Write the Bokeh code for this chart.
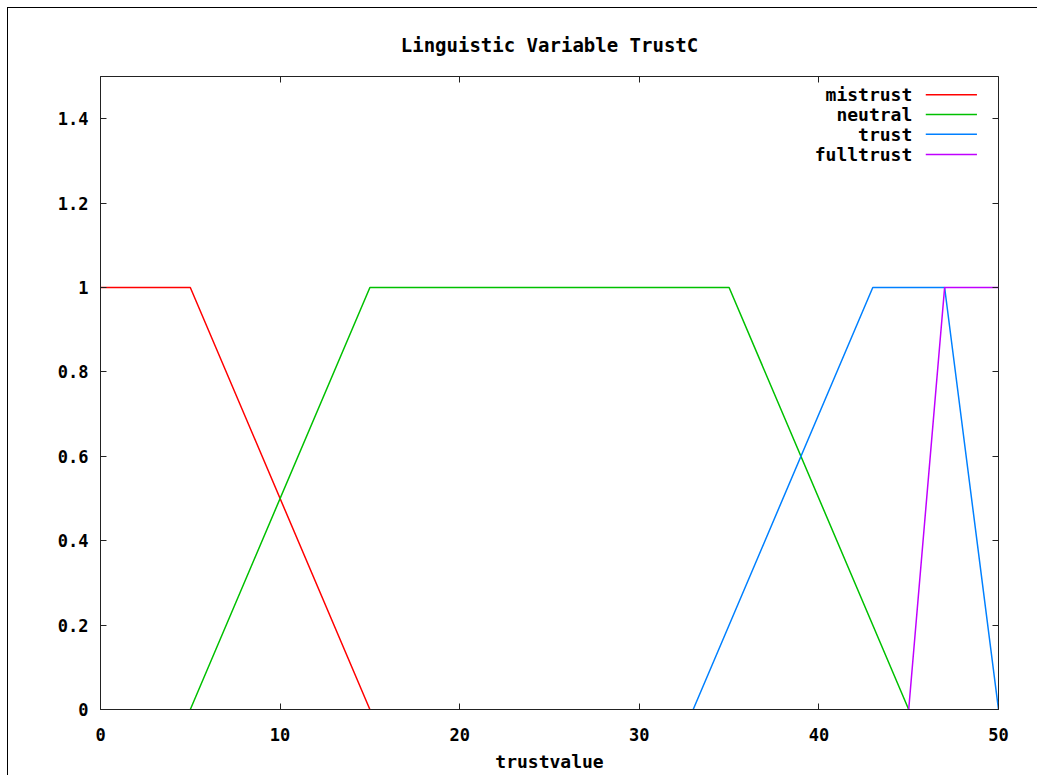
from bokeh.plotting import figure
from bokeh.models import Range1d, FixedTicker, LinearAxis
from bokeh.core.properties import value
from bokeh.embed import file_html
from bokeh.resources import INLINE

# ---- data ----
series_names = ["mistrust", "neutral", "trust", "fulltrust"]
series_colors = ["#ff0000", "#00c000", "#0080ff", "#c000ff"]
mistrust_x = [0, 5, 15]
mistrust_y = [1, 1, 0]
neutral_x = [5, 15, 35, 45]
neutral_y = [0, 1, 1, 0]
trust_x = [33, 43, 47, 50]
trust_y = [0, 1, 1, 0]
fulltrust_x = [45, 47, 50]
fulltrust_y = [0, 1, 1]
x_ticks = [0, 10, 20, 30, 40, 50]
y_ticks = [0, 0.2, 0.4, 0.6, 0.8, 1.0, 1.2, 1.4]
y_tick_labels = ["0", "0.2", "0.4", "0.6", "0.8", "1", "1.2", "1.4"]

# legend placement (data coords)
legend_text_x = 45.2
legend_line_x0 = 45.95
legend_line_x1 = 48.8
legend_rows_y = [1.457, 1.410, 1.363, 1.315]

FONT = "DejaVu Sans Mono"
FS = "18px"
TFS = "17px"

p = figure(width=1030, height=768, output_backend="svg", toolbar_location=None,
           x_range=Range1d(0, 50), y_range=Range1d(0, 1.5),
           min_border_left=92, min_border_right=40, min_border_top=68, min_border_bottom=67)
p.styles = {"border-left": "1px solid black", "border-top": "1px solid black",
            "margin-left": "7px", "margin-top": "7px"}

p.title.text = "Linguistic Variable TrustC"
p.title.align = "center"
p.title.text_font = FONT
p.title.text_font_size = "19px"
p.title.text_font_style = "bold"
p.title.text_color = "black"
p.title.standoff = 41

p.xgrid.visible = False
p.ygrid.visible = False
p.outline_line_color = "#222222"
p.outline_line_width = 1
p.background_fill_color = "white"
p.border_fill_color = "white"

def style_axis(ax, ticks, labels=True):
    ax.ticker = FixedTicker(ticks=ticks)
    ax.major_tick_in = 6
    ax.major_tick_out = 0
    ax.minor_tick_in = 0
    ax.minor_tick_out = 0
    ax.major_tick_line_color = "#222222"
    ax.axis_line_color = "#222222"
    ax.major_label_text_font = FONT
    ax.major_label_text_font_style = "bold"
    ax.major_label_text_color = "black"
    ax.major_label_text_font_size = TFS
    ax.axis_label_text_font = FONT
    ax.axis_label_text_font_style = "bold"
    ax.axis_label_text_font_size = FS
    ax.axis_label_text_color = "black"
    if not labels:
        ax.major_label_overrides = {t: "" for t in ticks}
        ax.major_label_standoff = 0
        ax.axis_line_color = None

style_axis(p.xaxis[0], x_ticks)
p.xaxis[0].major_label_standoff = 18
p.xaxis[0].axis_label = "trustvalue"
p.xaxis[0].axis_label_standoff = 7
style_axis(p.yaxis[0], y_ticks)
p.yaxis[0].major_label_standoff = 12
p.yaxis[0].major_label_overrides = {t: l for t, l in zip(y_ticks, y_tick_labels)}

top_ax = LinearAxis()
style_axis(top_ax, x_ticks, labels=False)
p.add_layout(top_ax, "above")
right_ax = LinearAxis()
style_axis(right_ax, y_ticks, labels=False)
p.add_layout(right_ax, "right")

xs = [mistrust_x, neutral_x, trust_x, fulltrust_x]
ys = [mistrust_y, neutral_y, trust_y, fulltrust_y]
for x, y, c in zip(xs, ys, series_colors):
    p.line(x, y, line_color=c, line_width=1.5)

# manual legend (label then sample line, gnuplot style)
p.text(x=[legend_text_x] * 4, y=legend_rows_y, text=series_names,
       text_align="right", text_baseline="middle",
       text_font=value(FONT), text_font_style="bold", text_font_size=FS,
       text_color="black")
p.segment(x0=[legend_line_x0] * 4, y0=legend_rows_y, x1=[legend_line_x1] * 4, y1=legend_rows_y,
          line_color=series_colors, line_width=1.5)

open("out.html", "w").write(file_html(p, INLINE))
